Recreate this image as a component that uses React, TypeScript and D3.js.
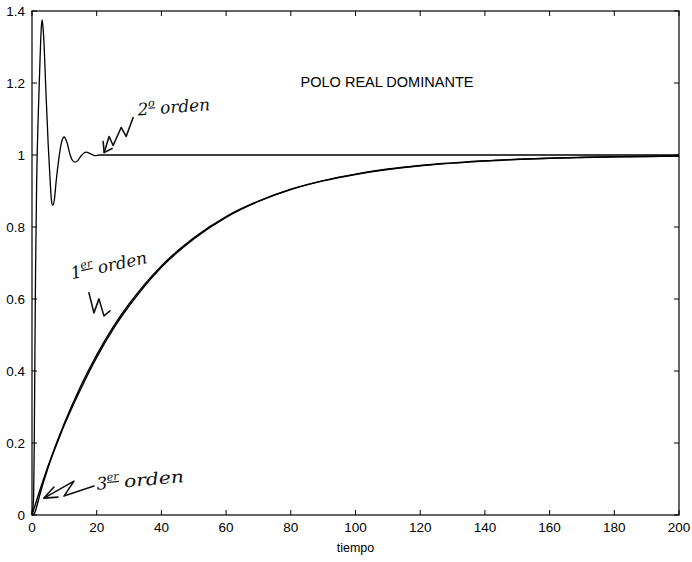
import React, { useEffect, useRef } from 'react';
import * as d3 from 'd3';

// tick values
const xTicks = [0, 20, 40, 60, 80, 100, 120, 140, 160, 180, 200];
const yTicks = [0, 0.2, 0.4, 0.6, 0.8, 1, 1.2, 1.4];

// 1st order response
const firstT = [0, 2, 5, 10, 15, 20, 25, 30, 40, 50, 60, 70, 80, 90, 100, 110, 120, 130, 140, 150, 160, 170, 180, 190, 200];
const firstY = [0, 0.057, 0.137, 0.255, 0.357, 0.445, 0.521, 0.586, 0.692, 0.77, 0.829, 0.872, 0.905, 0.929, 0.947, 0.961, 0.971, 0.978, 0.984, 0.988, 0.991, 0.993, 0.995, 0.996, 0.997];

// 2nd order response (oscillating)
const secondT = [0, 0.5, 0.7, 0.9, 1.1, 1.45, 2.0, 2.5, 2.85, 3.1, 3.35, 3.6, 4.2, 5.0, 5.6, 6.0, 6.4, 6.9, 7.5, 8.3, 9.0, 9.9, 10.8, 11.8, 12.5, 13.3, 14.2, 15.2, 16.7, 18, 19.5, 21, 30, 60, 100, 150, 200];
const secondY = [0, 0.05, 0.2, 0.45, 0.68, 0.93, 1.13, 1.27, 1.35, 1.375, 1.36, 1.33, 1.2, 1.03, 0.93, 0.875, 0.86, 0.875, 0.93, 0.99, 1.03, 1.05, 1.035, 1.0, 0.985, 0.98, 0.985, 0.998, 1.008, 1.004, 0.998, 1.0, 1.0, 1.0, 1.0, 1.0, 1.0];

// 3rd order response (slight lag, then like the 1st order)
const thirdT = [0, 0.5, 1, 1.5, 2, 3, 4, 5, 6, 8, 10, 15, 20, 25, 30, 40, 50, 60, 70, 80, 90, 100, 120, 140, 160, 180, 200];
const thirdY = [0, 0.002, 0.01, 0.025, 0.042, 0.075, 0.104, 0.132, 0.158, 0.205, 0.25, 0.349, 0.438, 0.515, 0.58, 0.688, 0.767, 0.827, 0.871, 0.904, 0.928, 0.946, 0.97, 0.983, 0.991, 0.995, 0.997];

const width = 692;
const height = 562;
const margin = { top: 11, right: 13, bottom: 47, left: 32 };

const font = '"Liberation Sans", Arial, sans-serif';
const hand = '"DejaVu Serif", serif';

const App: React.FC = () => {
  const ref = useRef<SVGSVGElement>(null);

  useEffect(() => {
    if (!ref.current) return;
    const svg = d3.select(ref.current);
    svg.selectAll('*').remove();

    const x = d3.scaleLinear().domain([0, 200]).range([margin.left, width - margin.right]);
    const y = d3.scaleLinear().domain([0, 1.4]).range([height - margin.bottom, margin.top]);
    const fmt = (v: number) => d3.format('~g')(+v.toFixed(1));

    const x0 = x(0), x1 = x(200), y0 = y(0), y1 = y(1.4);
    const tl = 5;

    // frame
    svg.append('rect')
      .attr('x', x0).attr('y', y1)
      .attr('width', x1 - x0).attr('height', y0 - y1)
      .attr('fill', 'none').attr('stroke', '#000').attr('stroke-width', 1.2);

    // inward ticks on all four sides
    const ticks = svg.append('g').attr('stroke', '#000').attr('stroke-width', 1);
    xTicks.forEach((t) => {
      ticks.append('line').attr('x1', x(t)).attr('x2', x(t)).attr('y1', y0).attr('y2', y0 - tl);
      ticks.append('line').attr('x1', x(t)).attr('x2', x(t)).attr('y1', y1).attr('y2', y1 + tl);
    });
    yTicks.forEach((t) => {
      ticks.append('line').attr('x1', x0).attr('x2', x0 + tl).attr('y1', y(t)).attr('y2', y(t));
      ticks.append('line').attr('x1', x1).attr('x2', x1 - tl).attr('y1', y(t)).attr('y2', y(t));
    });

    svg.append('g')
      .selectAll('text')
      .data(xTicks)
      .join('text')
      .attr('x', (d) => x(d))
      .attr('y', y0 + 17)
      .attr('text-anchor', 'middle')
      .attr('font-family', font)
      .attr('font-size', 13.5)
      .text((d) => fmt(d));

    svg.append('g')
      .selectAll('text')
      .data(yTicks)
      .join('text')
      .attr('x', x0 - 7)
      .attr('y', (d) => y(d) + 5)
      .attr('text-anchor', 'end')
      .attr('font-family', font)
      .attr('font-size', 13.5)
      .text((d) => fmt(d));

    svg.append('text')
      .attr('x', (x0 + x1) / 2)
      .attr('y', height - 10)
      .attr('text-anchor', 'middle')
      .attr('font-family', font)
      .attr('font-size', 12.5)
      .text('tiempo');

    svg.append('text')
      .attr('x', x(83))
      .attr('y', y(1.189))
      .attr('font-family', font)
      .attr('font-size', 14)
      .attr('textLength', 173)
      .attr('lengthAdjust', 'spacingAndGlyphs')
      .text('POLO REAL DOMINANTE');

    // curves
    const line = d3.line<[number, number]>()
      .x((d) => x(d[0]))
      .y((d) => y(d[1]))
      .curve(d3.curveMonotoneX);
    const series = [
      d3.zip(firstT, firstY),
      d3.zip(thirdT, thirdY),
      d3.zip(secondT, secondY),
    ] as [number, number][][];
    svg.append('g')
      .selectAll('path')
      .data(series)
      .join('path')
      .attr('d', (d) => line(d))
      .attr('fill', 'none')
      .attr('stroke', '#000')
      .attr('stroke-width', (_, i) => (i === 2 ? 1.3 : 1.4));

    // hand-written annotations
    const ann = svg.append('g')
      .attr('fill', 'none')
      .attr('stroke', '#111')
      .attr('stroke-width', 1.6)
      .attr('stroke-linecap', 'round')
      .attr('stroke-linejoin', 'round');
    const pth = (ax: number, ay: number, pts: [number, number][]) => {
      const px = x(ax), py = y(ay);
      ann.append('path').attr('d', d3.line()(pts.map(([dx, dy]) => [px + dx, py + dy] as [number, number])));
    };
    // 2nd order arrow, tip near (22, 1.0)
    pth(22.3, 1.007, [[29, -35], [22, -16], [17, -25], [9, -7], [5, -16], [0, 0]]);
    pth(22.3, 1.007, [[-1, -11], [0, 0], [8, -4]]);
    // 1st order squiggle
    pth(17.6, 0.617, [[0, 0], [5, 20], [10, 6], [15, 23], [21, 18]]);
    // 3rd order arrow
    pth(3.7, 0.047, [[0, 0], [30, -17], [20, -2], [50, -12]]);
    pth(3.7, 0.047, [[10, -11], [0, 0], [14, -1]]);

    const txt = svg.append('g').attr('font-family', hand).attr('font-style', 'italic').attr('fill', '#111');
    const note = (ax: number, ay: number, rot: number, big: string, sup: string, rest: string, len: number) => {
      const t = txt.append('text')
        .attr('transform', `translate(${x(ax)},${y(ay)}) rotate(${rot})`)
        .attr('font-size', 17);
      t.append('tspan').text(big);
      t.append('tspan').attr('font-size', 11).attr('dy', -8).attr('text-decoration', 'underline').text(sup);
      t.append('tspan').attr('dy', 8).attr('dx', 5).attr('textLength', len).attr('lengthAdjust', 'spacingAndGlyphs').text(rest);
    };
    note(32.8, 1.11, -4, '2', 'o', 'orden', 50);
    note(12.4, 0.655, -12, '1', 'er', 'orden', 50);
    note(20.1, 0.07, -5, '3', 'er', 'orden', 60);
  }, []);

  return (
    <svg
      ref={ref}
      width={width}
      height={height}
      style={{ position: 'absolute', left: 0, top: 0, background: '#fff' }}
    />
  );
};

export default App;
